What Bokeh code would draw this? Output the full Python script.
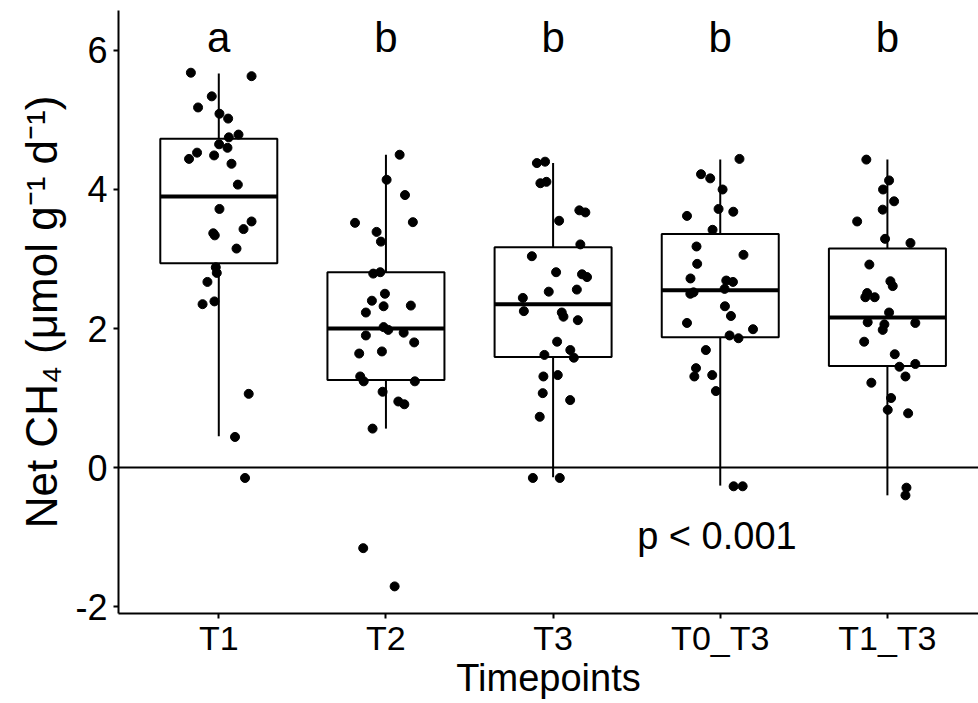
from bokeh.plotting import figure
from bokeh.models import Range1d, FixedTicker, Span, ColumnDataSource
from bokeh.embed import file_html
from bokeh.resources import INLINE
from bokeh.core.properties import value

# ---------------- data ----------------
categories = ["T1", "T2", "T3", "T0_T3", "T1_T3"]
letters = ["a", "b", "b", "b", "b"]
letter_y = 6.18

q1 = [2.94, 1.26, 1.59, 1.875, 1.46]
median = [3.90, 2.00, 2.35, 2.55, 2.16]
q3 = [4.73, 2.81, 3.17, 3.36, 3.15]
whisker_low = [0.45, 0.56, -0.14, -0.26, -0.40]
whisker_high = [5.67, 4.50, 4.38, 4.43, 4.43]

t1_values = [5.68, 5.63, 5.34, 5.18, 5.09, 5.02, 4.79, 4.75, 4.65, 4.60, 4.53, 4.44, 4.49, 4.37, 4.07,
             3.72, 3.54, 3.43, 3.37, 3.34, 3.15, 2.88, 2.80, 2.67, 2.39, 2.35, 1.06, 0.44, -0.15]
t1_jitter = [-0.167, 0.196, -0.042, -0.124, 0.004, 0.056, 0.118, 0.060, 0.002, 0.052, -0.130, -0.178, -0.028, 0.076, 0.114,
             0.004, 0.196, 0.148, -0.033, -0.024, 0.106, -0.018, -0.012, -0.068, -0.026, -0.097, 0.179, 0.097, 0.157]

t2_values = [4.50, 4.14, 3.92, 3.52, 3.53, 3.39, 3.25, 2.79, 2.81, 2.50, 2.40, 2.32, 2.23, 2.33, 2.02,
             1.98, 1.94, 1.80, 1.90, 1.64, 1.67, 1.31, 1.24, 1.09, 1.24, 0.95, 0.91, 0.56, -1.16, -1.71]
t2_jitter = [0.082, 0.004, 0.114, -0.185, 0.161, -0.056, -0.030, -0.076, -0.034, -0.006, -0.084, -0.014, -0.120, 0.149, -0.014,
             0.014, 0.106, 0.169, -0.120, -0.160, -0.024, -0.154, -0.133, -0.020, 0.173, 0.074, 0.110, -0.080, -0.136, 0.052]

t3_values = [4.38, 4.40, 4.09, 4.11, 3.55, 3.70, 3.67, 3.21, 3.04, 2.81, 2.78, 2.74, 2.53, 2.56, 2.44,
             2.25, 2.23, 2.17, 2.12, 1.81, 1.69, 1.58, 1.62, 1.31, 1.33, 1.07, 0.97, 0.73, -0.15, -0.15]
t3_jitter = [-0.097, -0.048, -0.076, -0.040, 0.036, 0.157, 0.193, 0.163, -0.127, 0.018, 0.173, 0.203, -0.026, 0.142, -0.181,
             -0.175, 0.052, 0.062, 0.148, 0.024, 0.103, 0.124, -0.052, -0.058, 0.028, -0.062, 0.102, -0.080, -0.121, 0.040]

t0_t3_values = [4.44, 4.22, 4.16, 4.00, 3.62, 3.72, 3.68, 3.42, 3.18, 3.06, 2.93, 2.72, 2.69, 2.67, 2.50,
                2.52, 2.57, 2.32, 2.18, 2.08, 1.99, 1.90, 1.86, 1.69, 1.43, 1.31, 1.33, 1.10, -0.27, -0.27]
t0_t3_jitter = [0.115, -0.115, -0.060, 0.014, -0.199, -0.010, 0.078, -0.046, -0.142, 0.139, -0.138, -0.178, 0.036, 0.076, -0.179,
                -0.160, 0.026, 0.028, 0.064, -0.199, 0.196, 0.056, 0.109, -0.086, -0.145, -0.155, -0.048, -0.026, 0.080, 0.134]

t1_t3_values = [4.43, 4.13, 4.00, 3.83, 3.71, 3.54, 3.29, 3.23, 2.92, 2.68, 2.61, 2.51, 2.45, 2.45, 2.23,
                2.09, 2.06, 1.98, 2.08, 1.81, 1.63, 1.45, 1.49, 1.31, 1.22, 1.00, 0.83, 0.78, -0.29, -0.40]
t1_t3_jitter = [-0.126, 0.010, -0.026, 0.040, -0.028, -0.181, -0.014, 0.138, -0.108, 0.018, 0.032, -0.121, -0.132, -0.076, 0.010,
                -0.118, -0.018, -0.028, 0.167, -0.139, 0.044, 0.072, 0.167, 0.108, -0.096, 0.022, 0.002, 0.124, 0.114, 0.108]

p_text = "p < 0.001"
p_text_x = 3.98
p_text_y = -0.98

y_ticks = [-2, 0, 2, 4, 6]

# ---------------- figure ----------------
FONT = "Liberation Sans"
box_width = 0.7
positions = list(range(1, len(categories) + 1))

p = figure(width=978, height=703,
           x_range=Range1d(0.4, 5.545), y_range=Range1d(-2.10, 6.575),
           output_backend="svg", toolbar_location=None,
           min_border_left=118, min_border_right=0, min_border_top=10, min_border_bottom=90)
p.outline_line_color = None
p.background_fill_color = "white"
p.border_fill_color = "white"
p.xgrid.visible = False
p.ygrid.visible = False

# zero line
p.add_layout(Span(location=0, dimension="width", line_color="black", line_width=2))

box_src = ColumnDataSource(dict(
    x=positions, q1=q1, med=median, q3=q3, lo=whisker_low, hi=whisker_high,
    left=[x - box_width / 2 for x in positions], right=[x + box_width / 2 for x in positions],
))
p.segment(x0="x", y0="q3", x1="x", y1="hi", source=box_src, line_color="black", line_width=2)
p.segment(x0="x", y0="lo", x1="x", y1="q1", source=box_src, line_color="black", line_width=2)
p.vbar(x="x", width=box_width, bottom="q1", top="q3", source=box_src,
       fill_color="white", line_color="black", line_width=2)
p.segment(x0="left", y0="med", x1="right", y1="med", source=box_src, line_color="black", line_width=4)

groups = [(t1_values, t1_jitter), (t2_values, t2_jitter), (t3_values, t3_jitter),
          (t0_t3_values, t0_t3_jitter), (t1_t3_values, t1_t3_jitter)]
px, py = [], []
for pos, (vals, jit) in zip(positions, groups):
    for v, j in zip(vals, jit):
        px.append(pos + j)
        py.append(v)
p.scatter(x=px, y=py, size=9, fill_color="black", line_color="black")

# significance letters
p.text(x=positions, y=[letter_y] * len(positions), text=letters,
       text_font=value(FONT), text_font_size="42px", text_color="black",
       text_align="center", text_baseline="alphabetic")

# p-value
p.text(x=[p_text_x], y=[p_text_y], text=[p_text],
       text_font=value(FONT), text_font_size="38px", text_color="black",
       text_align="center", text_baseline="alphabetic")

# axes
for ax in (p.xaxis, p.yaxis):
    ax.axis_line_color = "black"
    ax.axis_line_width = 2
    ax.major_tick_line_color = "black"
    ax.major_tick_line_width = 2
    ax.major_tick_out = 5
    ax.major_tick_in = 0
    ax.minor_tick_line_color = None
    ax.major_label_text_font = FONT
    ax.major_label_text_color = "black"
    ax.axis_label_text_font = FONT
    ax.axis_label_text_font_style = "normal"
    ax.axis_label_text_color = "black"

p.xaxis.ticker = FixedTicker(ticks=positions)
p.xaxis.major_label_overrides = {pos: c for pos, c in zip(positions, categories)}
p.xaxis.major_label_text_font_size = "34px"
p.xaxis.axis_label = "Timepoints"
p.xaxis.axis_label_text_font_size = "38px"
p.xaxis.major_label_standoff = 0
p.xaxis.axis_label_standoff = -3

p.yaxis.ticker = FixedTicker(ticks=y_ticks)
p.yaxis.major_label_overrides = {t: str(t) for t in y_ticks}
p.yaxis.major_label_text_font_size = "36px"
p.yaxis.axis_label = "Net CH\u2084 (\u03bcmol g\u207b\u00b9 d\u207b\u00b9)"
p.yaxis.axis_label_text_font_size = "44px"
p.yaxis.major_label_standoff = 6
p.yaxis.axis_label_standoff = 6

open("out.html", "w").write(file_html(p, INLINE))
